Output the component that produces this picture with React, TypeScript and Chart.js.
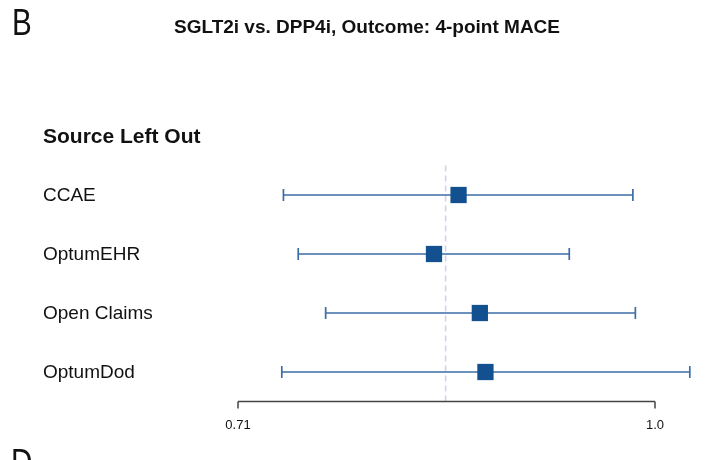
import React, { useEffect, useRef } from "react";
import { Chart, registerables } from "chart.js";

Chart.register(...registerables);

const panelLabel = "B";
const nextPanelLabel = "D";
const chartTitle = "SGLT2i vs. DPP4i, Outcome: 4-point MACE";
const headerLabel = "Source Left Out";
const sources = ["CCAE", "OptumEHR", "Open Claims", "OptumDod"];
const estimates = [0.851, 0.834, 0.866, 0.87];
const lowerCI = [0.737, 0.746, 0.763, 0.736];
const upperCI = [0.982, 0.932, 0.984, 1.029];
const summaryEstimate = 0.842;
const xTickValues = [0.71, 1.0];
const xTickLabels = ["0.71", "1.0"];

const FONT = "'Liberation Sans', Arial, Helvetica, sans-serif";

export default function App() {
  const ref = useRef<HTMLCanvasElement | null>(null);

  useEffect(() => {
    const canvas = ref.current;
    if (!canvas) return;

    const whiskerDatasets = sources.map((s, i) => ({
      type: "scatter" as const,
      label: s + " CI",
      data: [
        { x: lowerCI[i], y: i + 1 },
        { x: upperCI[i], y: i + 1 },
      ],
      showLine: true,
      borderColor: "#3d6ca7",
      borderWidth: 1.7,
      pointStyle: "line" as const,
      rotation: 90,
      pointRadius: 6,
      pointBorderColor: "#3d6ca7",
      pointBorderWidth: 1.7,
      pointHoverRadius: 6,
      order: 1,
      clip: false as const,
    }));

    const textPlugin = {
      id: "forestText",
      afterDraw(chart: any) {
        const ctx = chart.ctx;
        const xs = chart.scales.x;
        const ys = chart.scales.y;
        ctx.save();
        ctx.fillStyle = "#111";
        // panel labels (narrow)
        ctx.save();
        ctx.font = `37px ${FONT}`;
        ctx.textBaseline = "alphabetic";
        ctx.scale(0.8, 1);
        ctx.fillText(panelLabel, 12 / 0.8, 34.5);
        ctx.fillText(nextPanelLabel, 11 / 0.8, 475);
        ctx.restore();

        // title
        ctx.font = `bold 19px ${FONT}`;
        ctx.textAlign = "center";
        ctx.textBaseline = "middle";
        ctx.fillText(chartTitle, 367, 28);

        // header + row labels
        ctx.textAlign = "left";
        ctx.font = `bold 21px ${FONT}`;
        ctx.fillText(headerLabel, 43, ys.getPixelForValue(0) + 1);
        ctx.font = `19px ${FONT}`;
        sources.forEach((s, i) => {
          ctx.fillText(s, 43, ys.getPixelForValue(i + 1) + 1);
        });

        // axis
        const yAxis = ys.bottom;
        const x0 = xs.getPixelForValue(xTickValues[0]);
        const x1 = xs.getPixelForValue(xTickValues[xTickValues.length - 1]);
        ctx.strokeStyle = "#444";
        ctx.lineWidth = 1.5;
        ctx.beginPath();
        ctx.moveTo(x0, yAxis);
        ctx.lineTo(x1, yAxis);
        xTickValues.forEach((v) => {
          const px = xs.getPixelForValue(v);
          ctx.moveTo(px, yAxis);
          ctx.lineTo(px, yAxis + 7);
        });
        ctx.stroke();
        ctx.font = `13px ${FONT}`;
        ctx.textAlign = "center";
        ctx.fillStyle = "#111";
        xTickValues.forEach((v, i) => {
          ctx.fillText(xTickLabels[i], xs.getPixelForValue(v), yAxis + 24);
        });
        ctx.restore();
      },
    };

    const chart = new Chart(canvas, {
      type: "scatter",
      data: {
        datasets: [
          {
            type: "scatter",
            label: "Estimate",
            data: estimates.map((e, i) => ({ x: e, y: i + 1 })),
            pointStyle: "rect",
            pointRadius: 11.5,
            pointHoverRadius: 11.5,
            backgroundColor: "#12508f",
            borderColor: "#12508f",
            borderWidth: 0,
            order: 0,
            clip: false,
          } as any,
          ...whiskerDatasets,
          {
            type: "scatter",
            label: "Summary",
            data: [
              { x: summaryEstimate, y: 0.5 },
              { x: summaryEstimate, y: 4.5 },
            ],
            showLine: true,
            borderColor: "#d2d2ea",
            borderWidth: 1.6,
            borderDash: [6, 4],
            pointRadius: 0,
            order: 2,
            clip: false,
          } as any,
        ],
      },
      options: {
        animation: false,
        responsive: false,
        maintainAspectRatio: false,
        devicePixelRatio: 1,
        layout: {
          autoPadding: false,
          padding: { left: 238, right: 2.24, top: 100.6, bottom: 58.5 },
        },
        scales: {
          x: { type: "logarithmic", min: 0.71, max: 1.04, display: false },
          y: { type: "linear", min: -0.6, max: 4.5, reverse: true, display: false },
        },
        plugins: {
          legend: { display: false },
          tooltip: { enabled: false },
          title: { display: false },
        },
        events: [],
      },
      plugins: [textPlugin],
    });

    return () => chart.destroy();
  }, []);

  return (
    <div style={{ position: "absolute", left: 0, top: 0, width: 705, height: 460, background: "#fff" }}>
      <canvas ref={ref} width={705} height={460} style={{ width: 705, height: 460, display: "block" }} />
    </div>
  );
}
